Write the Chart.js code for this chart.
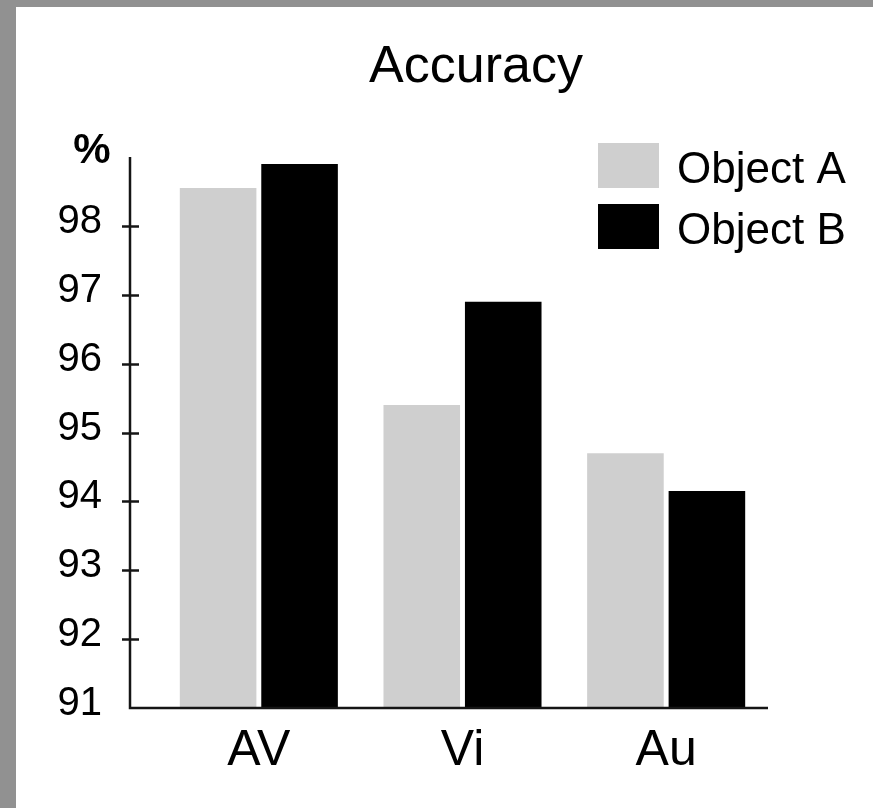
<!DOCTYPE html>
<html lang="en">
<head>
<meta charset="UTF-8">
<title>Accuracy</title>
<script src="https://cdn.jsdelivr.net/npm/chart.js"></script>
<style>
  html, body { margin: 0; padding: 0; background: #919191; }
  #wrap { position: absolute; left: 16px; top: 7px; width: 857px; height: 801px; background: #fff; }
</style>
</head>
<body>
<div id="wrap"><canvas id="accChart" width="857" height="801"></canvas></div>
<script>
// data
const categories = ['AV', 'Vi', 'Au'];
const seriesNames = ['Object A', 'Object B'];
const objectA = [98.55, 95.4, 94.7];
const objectB = [98.9, 96.9, 94.15];
const yTicks = [91, 92, 93, 94, 95, 96, 97, 98];
const titleText = 'Accuracy';
const unitText = '%';

const FONT = '"Liberation Sans", Arial, Helvetica, sans-serif';

// axis lines with crossing ticks, title, unit and legend
const decorations = {
  id: 'decorations',
  afterDatasetsDraw(chart) {
    const ctx = chart.ctx;
    const xs = chart.scales.x, ys = chart.scales.y;
    const area = chart.chartArea;
    const axisX = area.left - 27;
    const top = ys.getPixelForValue(99);
    const bottom = ys.getPixelForValue(91);

    ctx.save();
    ctx.strokeStyle = '#151515';
    ctx.lineWidth = 2.5;
    ctx.beginPath();
    ctx.moveTo(axisX, top);
    ctx.lineTo(axisX, bottom);
    ctx.lineTo(xs.right, bottom);
    ctx.stroke();

    ctx.lineWidth = 2.5;
    yTicks.forEach(v => {
      if (v === 91) return;
      const py = Math.round(ys.getPixelForValue(v)) + 0.5;
      ctx.beginPath();
      ctx.moveTo(axisX - 8, py);
      ctx.lineTo(axisX + 9, py);
      ctx.stroke();
    });

    // title
    ctx.fillStyle = '#000';
    ctx.font = '52px ' + FONT;
    ctx.textAlign = 'center';
    ctx.textBaseline = 'alphabetic';
    ctx.fillText(titleText, 460, 75);

    // unit
    ctx.font = 'bold 42px ' + FONT;
    ctx.textBaseline = 'middle';
    ctx.fillText(unitText, 76, 144);

    // legend
    ctx.font = '44px ' + FONT;
    ctx.textAlign = 'left';
    ctx.textBaseline = 'alphabetic';
    chart.data.datasets.forEach((ds, i) => {
      const by = 136 + i * 61;
      ctx.fillStyle = ds.backgroundColor;
      ctx.fillRect(582, by, 61, 45);
      ctx.fillStyle = '#000';
      ctx.fillText(ds.label, 661, by + 40);
    });
    ctx.restore();
  }
};

new Chart(document.getElementById('accChart'), {
  type: 'bar',
  data: {
    labels: categories,
    datasets: [
      { label: seriesNames[0], data: objectA, backgroundColor: '#cfcfcf' },
      { label: seriesNames[1], data: objectB, backgroundColor: '#000000' }
    ]
  },
  options: {
    responsive: false,
    animation: false,
    layout: { padding: { top: 150, right: 105, left: 0, bottom: 0 } },
    datasets: {
      bar: { categoryPercentage: 0.8, barPercentage: 0.94 }
    },
    plugins: {
      legend: { display: false },
      title: { display: false },
      tooltip: { enabled: false }
    },
    scales: {
      x: {
        grid: { display: false },
        border: { display: false },
        ticks: { color: '#000', font: { family: FONT, size: 50 }, padding: 5 },
        afterFit(scale) { scale.height = 100; }
      },
      y: {
        min: 91,
        max: 99,
        grid: { display: false },
        border: { display: false },
        afterBuildTicks(scale) { scale.ticks = yTicks.concat([99]).map(v => ({ value: v })); },
        ticks: {
          color: '#000',
          font: { family: FONT, size: 40 },
          padding: 47,
          labelOffset: -4,
          callback: v => (v === 99 ? '' : String(v))
        },
        afterFit(scale) { scale.width = 141; }
      }
    }
  },
  plugins: [decorations]
});
</script>
</body>
</html>
